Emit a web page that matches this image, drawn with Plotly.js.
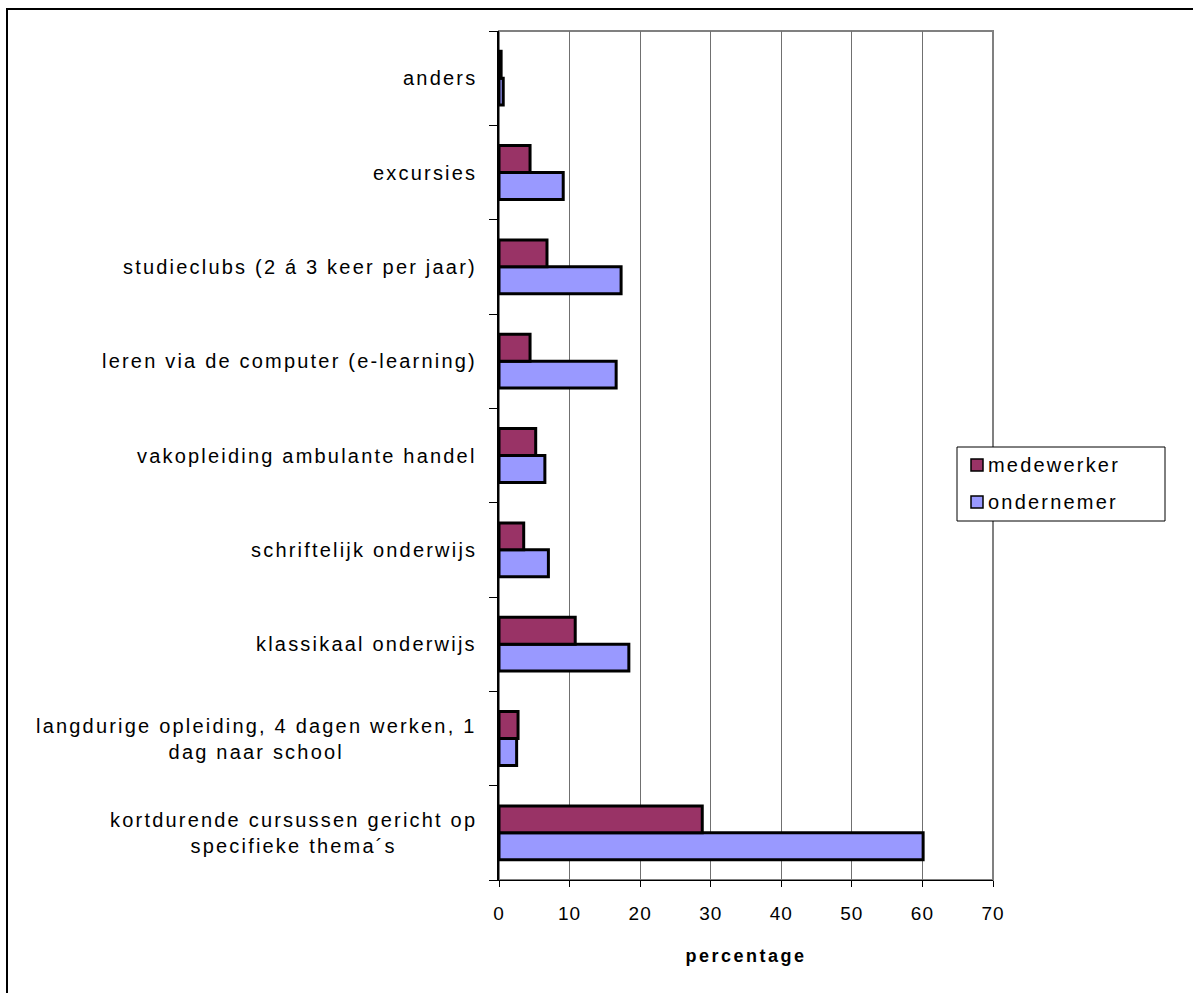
<!DOCTYPE html>
<html>
<head>
<meta charset="utf-8">
<script src="https://cdn.plot.ly/plotly-3.0.1.min.js"></script>
<style>
  html, body { margin: 0; padding: 0; background: #ffffff; }
  #chart { width: 1193px; height: 993px; }
  text.annotation-text { letter-spacing: 2.2px; }
  .xtick text { letter-spacing: 1px; }
  .g-xtitle text { letter-spacing: 2.5px; }
</style>
</head>
<body>
<div id="chart"></div>
<script>
// Training forms, listed bottom to top as they appear on the category axis
const categories = [
  'kortdurende cursussen gericht op<br>specifieke thema´s',
  'langdurige opleiding, 4 dagen werken, 1<br>dag naar school',
  'klassikaal onderwijs',
  'schriftelijk onderwijs',
  'vakopleiding ambulante handel',
  'leren via de computer (e-learning)',
  'studieclubs (2 á 3 keer per jaar)',
  'excursies',
  'anders'
];

// Share (%) per group
const medewerker = [28.8, 2.7, 10.8, 3.5, 5.2, 4.4, 6.8, 4.4, 0.3];
const ondernemer = [60.1, 2.5, 18.4, 7.0, 6.5, 16.6, 17.3, 9.1, 0.6];

const seriesNames = ['medewerker', 'ondernemer'];
const seriesColors = ['#993366', '#9999FF'];

const xTickValues = [0, 10, 20, 30, 40, 50, 60, 70];
const xTitle = 'percentage';

const FONT = 'Liberation Sans, Arial, Helvetica, sans-serif';

// Page geometry (pixels)
const W = 1193, H = 993;
const M = { l: 499, r: 200, t: 31, b: 113 };
const plotW = W - M.l - M.r;
const plotH = H - M.t - M.b;
const px = x => (x - M.l) / plotW;          // pixel x -> paper x
const py = y => (H - M.b - y) / plotH;      // pixel y -> paper y

const barLine = { color: '#000000', width: 3 };

// ondernemer first so it sits below medewerker inside each group
const traces = [
  {
    type: 'bar', orientation: 'h', name: seriesNames[1],
    y: categories, x: ondernemer,
    marker: { color: seriesColors[1], line: barLine },
    showlegend: false, hoverinfo: 'skip'
  },
  {
    type: 'bar', orientation: 'h', name: seriesNames[0],
    y: categories, x: medewerker,
    marker: { color: seriesColors[0], line: barLine },
    showlegend: false, hoverinfo: 'skip'
  }
];

// Category labels: right-aligned block, lines centred within it
const labelAnnotations = categories.map(c => ({
  xref: 'paper', yref: 'y',
  x: px(479), y: c,
  xanchor: 'right', yanchor: 'middle', align: 'center',
  text: c, showarrow: false,
  font: { family: FONT, size: 20, color: '#000000' }
}));

// Legend box drawn at the right edge of the plot
const legendBox = { x0: 957, x1: 1165, y0: 447, y1: 521 };
const legendRows = [465, 502];
const legendSymbolX = [971, 983];

const legendShapes = [
  {
    type: 'rect', xref: 'paper', yref: 'paper', layer: 'above',
    x0: px(legendBox.x0), x1: px(legendBox.x1),
    y0: py(legendBox.y1), y1: py(legendBox.y0),
    line: { color: '#000000', width: 1 }, fillcolor: '#ffffff'
  }
].concat(seriesNames.map((n, i) => ({
  type: 'rect', xref: 'paper', yref: 'paper', layer: 'above',
  x0: px(legendSymbolX[0]), x1: px(legendSymbolX[1]),
  y0: py(legendRows[i] + 6), y1: py(legendRows[i] - 6),
  line: { color: '#000000', width: 1.5 }, fillcolor: seriesColors[i]
})));

const legendLabels = seriesNames.map((n, i) => ({
  xref: 'paper', yref: 'paper',
  x: px(986), y: py(legendRows[i]),
  xanchor: 'left', yanchor: 'middle',
  text: n, showarrow: false,
  font: { family: FONT, size: 20, color: '#000000' }
}));

const frameShapes = [
  // outer chart border
  {
    type: 'rect', xref: 'paper', yref: 'paper', layer: 'below',
    x0: px(7), x1: px(1400), y0: py(1200), y1: py(9),
    line: { color: '#000000', width: 2 }, fillcolor: 'rgba(0,0,0,0)'
  },
  // plot area border
  {
    type: 'rect', xref: 'paper', yref: 'paper', layer: 'below',
    x0: 0, x1: 1, y0: 0, y1: 1,
    line: { color: '#808080', width: 2 }, fillcolor: 'rgba(0,0,0,0)'
  }
];

const layout = {
  width: W, height: H,
  margin: M,
  paper_bgcolor: '#ffffff',
  plot_bgcolor: '#ffffff',
  font: { family: FONT, size: 19, color: '#000000' },
  barmode: 'group',
  bargap: 0.43,
  bargroupgap: 0,
  showlegend: false,
  xaxis: {
    range: [0, 70],
    tickvals: xTickValues,
    ticktext: xTickValues.map(String),
    ticks: 'outside', ticklen: 6, tickwidth: 1, tickcolor: '#000000',
    ticklabelstandoff: 10,
    tickfont: { family: FONT, size: 19, color: '#000000' },
    showgrid: true, gridcolor: '#707070', gridwidth: 1,
    zeroline: false,
    showline: true, linecolor: '#000000', linewidth: 1,
    fixedrange: true,
    title: {
      text: xTitle, standoff: 26,
      font: { family: FONT, size: 18, color: '#000000', weight: 'bold' }
    }
  },
  yaxis: {
    type: 'category',
    categoryorder: 'array', categoryarray: categories,
    showticklabels: false,
    ticks: 'outside', tickson: 'boundaries', ticklen: 8, tickwidth: 1, tickcolor: '#000000',
    showgrid: false, zeroline: false,
    showline: true, linecolor: '#000000', linewidth: 2,
    fixedrange: true
  },
  shapes: frameShapes.concat(legendShapes),
  annotations: labelAnnotations.concat(legendLabels)
};

Plotly.newPlot('chart', traces, layout, { displayModeBar: false, staticPlot: true });
</script>
</body>
</html>
